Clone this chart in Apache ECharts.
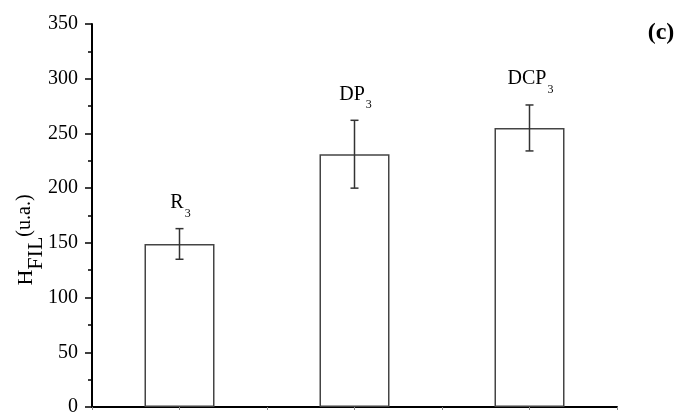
<!DOCTYPE html>
<html>
<head>
<meta charset="utf-8">
<script src="https://cdn.jsdelivr.net/npm/echarts@6/dist/echarts.min.js"></script>
<style>
html,body{margin:0;padding:0;background:#fff;}
#c{width:685px;height:417px;}
</style>
</head>
<body>
<div id="c"></div>
<script>
// ---- data ----
var categories = ['R3', 'DP3', 'DCP3'];
var labelMain = ['R', 'DP', 'DCP'];
var labelSub = ['3', '3', '3'];
var values = [149, 231, 255];
var errLow = [135, 200, 234];
var errHigh = [163, 262, 276];
var yTicks = [0, 50, 100, 150, 200, 250, 300, 350];

var FONT = '"Liberation Serif", "Times New Roman", serif';
var MAIN_SIZE = 20, SUB_SIZE = 12;

var measureCtx = document.createElement('canvas').getContext('2d');
function textWidth(t, size) {
  measureCtx.font = size + 'px ' + FONT;
  return measureCtx.measureText(t).width;
}

var chart = echarts.init(document.getElementById('c'), null, {renderer: 'canvas'});

var errData = categories.map(function (c, i) { return [i, errLow[i], errHigh[i]]; });
var lblData = categories.map(function (c, i) { return [i, errHigh[i]]; });

var option = {
  animation: false,
  backgroundColor: '#fff',
  grid: {left: 92, right: 68, top: 24, bottom: 7, containLabel: false},
  xAxis: [{
    type: 'category',
    data: categories,
    axisLine: {show: true, lineStyle: {color: '#000', width: 2}},
    axisTick: {show: false},
    axisLabel: {show: false},
    splitLine: {show: false}
  }, {
    type: 'value',
    min: 0, max: 3, interval: 0.5,
    position: 'bottom',
    axisLine: {show: false},
    axisTick: {show: true, length: 3, lineStyle: {color: '#888', width: 1}},
    axisLabel: {show: false},
    splitLine: {show: false}
  }],
  yAxis: {
    type: 'value',
    min: yTicks[0], max: yTicks[yTicks.length - 1], interval: yTicks[1] - yTicks[0],
    axisLine: {show: true, lineStyle: {color: '#000', width: 2}},
    axisTick: {show: true, inside: false, length: 7, lineStyle: {color: '#000', width: 1.5}},
    minorTick: {show: true, splitNumber: 2, length: 4, lineStyle: {color: '#000', width: 1.5}},
    axisLabel: {show: true, margin: 14, color: '#000', fontSize: 20, fontFamily: FONT},
    splitLine: {show: false}
  },
  series: [{
    type: 'bar',
    data: values,
    barWidth: 70,
    itemStyle: {color: '#fff', borderColor: '#444', borderWidth: 1.5},
    silent: true
  }, {
    type: 'custom',
    data: errData,
    encode: {x: 0, y: [1, 2]},
    renderItem: function (params, api) {
      var i = api.value(0);
      var lo = api.coord([i, api.value(1)]);
      var hi = api.coord([i, api.value(2)]);
      var x = lo[0], hw = 4;
      var st = {stroke: '#333', lineWidth: 1.5, fill: null};
      return {
        type: 'group',
        children: [
          {type: 'line', shape: {x1: x, y1: lo[1], x2: x, y2: hi[1]}, style: st},
          {type: 'line', shape: {x1: x - hw, y1: lo[1], x2: x + hw, y2: lo[1]}, style: st},
          {type: 'line', shape: {x1: x - hw, y1: hi[1], x2: x + hw, y2: hi[1]}, style: st}
        ]
      };
    },
    z: 5
  }, {
    type: 'custom',
    data: lblData,
    encode: {x: 0, y: 1},
    renderItem: function (params, api) {
      var i = api.value(0);
      var p = api.coord([i, api.value(1)]);
      var wm = textWidth(labelMain[i], MAIN_SIZE);
      var ws = textWidth(labelSub[i], SUB_SIZE);
      var left = p[0] + 1 - (wm + ws + 1) / 2;
      var cy = p[1] - 26;
      return {
        type: 'group',
        children: [{
          type: 'text', x: left, y: cy,
          style: {text: labelMain[i], align: 'left', verticalAlign: 'middle',
                  fontSize: MAIN_SIZE, fontFamily: FONT, fill: '#000'}
        }, {
          type: 'text', x: left + wm + 1, y: cy + 11,
          style: {text: labelSub[i], align: 'left', verticalAlign: 'middle',
                  fontSize: SUB_SIZE, fontFamily: FONT, fill: '#000'}
        }]
      };
    },
    z: 6
  }],
  graphic: [{
    type: 'text',
    x: 31, y: 240,
    rotation: Math.PI / 2,
    style: {
      text: '{h|H}{f|FIL}{u|(u.a.)}',
      align: 'center',
      verticalAlign: 'middle',
      rich: {
        h: {fontSize: 22, fontFamily: FONT, color: '#000', lineHeight: 22, verticalAlign: 'top'},
        f: {fontSize: 22, fontFamily: FONT, color: '#000', lineHeight: 32, verticalAlign: 'bottom'},
        u: {fontSize: 20, fontFamily: FONT, color: '#000', lineHeight: 22, verticalAlign: 'top'}
      }
    }
  }, {
    type: 'text',
    x: 661, y: 33,
    style: {
      text: '(c)',
      align: 'center',
      verticalAlign: 'middle',
      fontSize: 24, fontWeight: 'bold', fontFamily: FONT, fill: '#000'
    }
  }]
};
chart.setOption(option);
</script>
</body>
</html>
